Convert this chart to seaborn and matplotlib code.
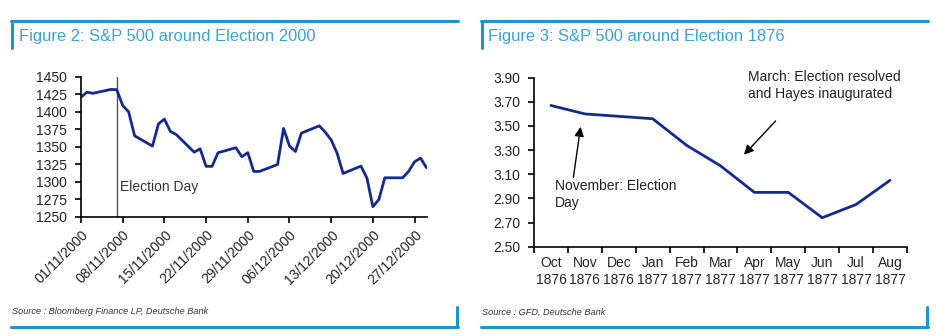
import matplotlib
matplotlib.use("Agg")
import matplotlib.pyplot as plt
import matplotlib.dates as mdates
from matplotlib.lines import Line2D
import seaborn as sns
import pandas as pd
import numpy as np

# ---------------- data ----------------
dates_2000 = ["2000-11-01", "2000-11-02", "2000-11-03", "2000-11-06", "2000-11-07",
              "2000-11-08", "2000-11-09", "2000-11-10", "2000-11-13", "2000-11-14",
              "2000-11-15", "2000-11-16", "2000-11-17", "2000-11-20", "2000-11-21",
              "2000-11-22", "2000-11-23", "2000-11-24", "2000-11-27", "2000-11-28",
              "2000-11-29", "2000-11-30", "2000-12-01", "2000-12-04", "2000-12-05",
              "2000-12-06", "2000-12-07", "2000-12-08", "2000-12-11", "2000-12-12",
              "2000-12-13", "2000-12-14", "2000-12-15", "2000-12-18", "2000-12-19",
              "2000-12-20", "2000-12-21", "2000-12-22", "2000-12-25", "2000-12-26",
              "2000-12-27", "2000-12-28", "2000-12-29"]
spx_2000 = [1421.2, 1428.3, 1426.7, 1432.2, 1431.9,
            1409.3, 1400.1, 1366.0, 1351.3, 1383.0,
            1389.8, 1372.3, 1367.7, 1342.6, 1347.4,
            1322.4, 1322.4, 1341.8, 1349.0, 1336.1,
            1341.9, 1315.0, 1315.2, 1325.0, 1376.5,
            1351.5, 1343.6, 1369.9, 1380.2, 1371.2,
            1360.0, 1340.9, 1312.2, 1322.7, 1305.6,
            1264.7, 1274.9, 1306.0, 1306.0, 1315.2,
            1328.9, 1334.2, 1320.3]
election_2000 = "2000-11-07"
ticks_2000 = ["2000-11-01", "2000-11-08", "2000-11-15", "2000-11-22", "2000-11-29",
              "2000-12-06", "2000-12-13", "2000-12-20", "2000-12-27"]

months_1876 = ["Oct\n1876", "Nov\n1876", "Dec\n1876", "Jan\n1877", "Feb\n1877",
               "Mar\n1877", "Apr\n1877", "May\n1877", "Jun\n1877", "Jul\n1877",
               "Aug\n1877"]
spx_1876 = [3.67, 3.60, 3.58, 3.56, 3.34, 3.17, 2.95, 2.95, 2.74, 2.85, 3.05]

# ---------------- style ----------------
sns.set_style("ticks")
plt.rcParams["font.family"] = ["Liberation Sans", "DejaVu Sans"]

LINE = "#142a8c"
FRAME = "#1b96cf"
TITLE = "#3aa2da"

fig = plt.figure(figsize=(9.36, 3.36), dpi=100)

def frame(x0, x1):
    W, H = 936, 336
    fx = lambda p: p / W
    fy = lambda p: 1 - p / H
    fig.add_artist(Line2D([fx(x0), fx(x1)], [fy(21), fy(21)], color=FRAME, lw=2.2))
    fig.add_artist(Line2D([fx(x0 + 1), fx(x0 + 1)], [fy(21), fy(48)], color=FRAME, lw=2.2))
    fig.add_artist(Line2D([fx(x0), fx(x1)], [fy(327), fy(327)], color=FRAME, lw=2.2))
    fig.add_artist(Line2D([fx(x1 - 1), fx(x1 - 1)], [fy(307), fy(327)], color=FRAME, lw=2.2))

frame(11, 458)
frame(481, 928)

fig.text(19 / 936, 1 - 37 / 336, "Figure 2: S&P 500 around Election 2000",
         color=TITLE, fontsize=11.9, va="center", ha="left")
fig.text(488 / 936, 1 - 37 / 336, "Figure 3: S&P 500 around Election 1876",
         color=TITLE, fontsize=11.9, va="center", ha="left")
fig.text(12 / 936, 1 - 312 / 336, "Source : Bloomberg Finance LP, Deutsche Bank",
         color="#333333", fontsize=6.6, style="italic", va="center", ha="left")
fig.text(482 / 936, 1 - 312 / 336, "Source : GFD, Deutsche Bank",
         color="#333333", fontsize=6.6, style="italic", va="center", ha="left")

# ---------------- left chart ----------------
ax1 = fig.add_axes([81 / 936, 1 - 217 / 336, 346 / 936, 140 / 336])
df1 = pd.DataFrame({"date": pd.to_datetime(dates_2000), "spx": spx_2000})
sns.lineplot(data=df1, x="date", y="spx", ax=ax1, color=LINE, lw=2.0)
ax1.axvline(pd.Timestamp(election_2000), color="#555555", lw=1.0, zorder=1)
ax1.text(pd.Timestamp(election_2000) + pd.Timedelta(hours=12), 1293, "Election Day",
         fontsize=10, color="#333333", va="center", ha="left")
ax1.set_xlim(pd.Timestamp("2000-11-01"), pd.Timestamp("2000-12-29 02:00"))
ax1.set_ylim(1250, 1450)
ax1.set_yticks(np.arange(1250, 1451, 25))
ax1.set_xticks(pd.to_datetime(ticks_2000))
ax1.xaxis.set_major_formatter(mdates.DateFormatter("%d/%m/%Y"))
plt.setp(ax1.get_xticklabels(), rotation=45, ha="right", rotation_mode="anchor")
ax1.set_xlabel("")
ax1.set_ylabel("")

# ---------------- right chart ----------------
ax2 = fig.add_axes([534 / 936, 1 - 246.7 / 336, 373 / 936, 169 / 336])
df2 = pd.DataFrame({"pos": np.arange(len(months_1876)), "spx": spx_1876})
sns.lineplot(data=df2, x="pos", y="spx", ax=ax2, color=LINE, lw=2.0)
ax2.set_xlim(-0.5, len(months_1876) - 0.5)
ax2.set_ylim(2.5, 3.9)
ax2.set_yticks(np.arange(2.5, 3.91, 0.2))
ax2.yaxis.set_major_formatter(matplotlib.ticker.FormatStrFormatter("%.2f"))
ax2.set_xticks(np.arange(-0.5, len(months_1876), 1.0))
ax2.set_xticklabels([])
ax2.set_xticks(np.arange(len(months_1876)), minor=True)
ax2.set_xticklabels(months_1876, minor=True, linespacing=1.2)
ax2.tick_params(axis="x", which="minor", length=0, pad=7)
ax2.set_xlabel("")
ax2.set_ylabel("")
ax2.annotate("", xy=(0.886, 3.516), xytext=(0.65, 3.052),
             arrowprops=dict(arrowstyle="-|>", color="black", lw=1.0, mutation_scale=14))
ax2.annotate("", xy=(5.636, 3.245), xytext=(6.68, 3.558),
             arrowprops=dict(arrowstyle="-|>", color="black", lw=1.0, mutation_scale=14))
ax2.text(0.12, 2.93, "November: Election\nDay", fontsize=10, color="#222222",
         va="center", ha="left", linespacing=1.25)
ax2.text(5.80, 3.96, "March: Election resolved\nand Hayes inaugurated", fontsize=10,
         color="#222222", va="top", ha="left", linespacing=1.25, clip_on=False)

for ax in (ax1, ax2):
    sns.despine(ax=ax)
    for s in ("left", "bottom"):
        ax.spines[s].set_color("black")
        ax.spines[s].set_linewidth(1.2)
    ax.tick_params(axis="both", which="major", direction="out", length=4, width=1.2,
                   labelsize=10, colors="black", labelcolor="#222222")
    ax.tick_params(axis="y", pad=6)

fig.savefig("out.png", dpi=100)
